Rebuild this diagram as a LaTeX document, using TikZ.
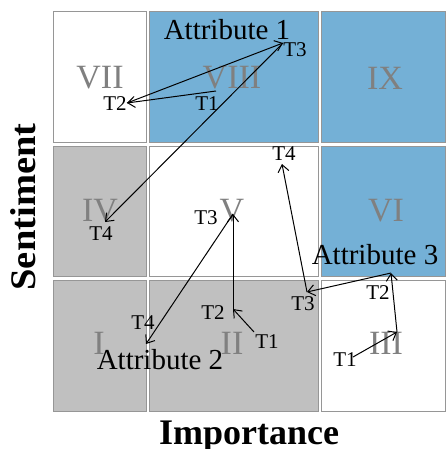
\documentclass[tikz,border=0pt]{standalone}
\usepackage{fontspec}
\setmainfont{Liberation Serif}
\usetikzlibrary{arrows.meta}
\definecolor{cblue}{RGB}{116,176,214}
\definecolor{cgray}{RGB}{192,192,192}
\definecolor{cedge}{RGB}{150,150,150}
\definecolor{cnum}{RGB}{128,128,128}
\begin{document}
\begin{tikzpicture}[x=1pt,y=-1pt,
  cell/.style={draw=cedge, line width=1pt},
  numeral/.style={text=cnum, inner sep=0pt, font=\fontsize{34}{34}\selectfont},
  tlab/.style={inner sep=0pt, font=\fontsize{21}{21}\selectfont},
  attr/.style={inner sep=0pt, font=\fontsize{29}{29}\selectfont},
  axislab/.style={inner sep=0pt, font=\bfseries\fontsize{36}{36}\selectfont},
  traj/.style={draw, line width=1pt, -{Straight Barb[length=7pt,width=11pt]}}]
\useasboundingbox (0,0) rectangle (446,449);
% cells
\path[cell, fill=white] (53,12) rectangle (146,143);
\path[cell, fill=cblue] (149.5,12) rectangle (318,143);
\path[cell, fill=cblue] (321.5,12) rectangle (445.5,143);
\path[cell, fill=cgray] (53,146.5) rectangle (146,276.5);
\path[cell, fill=white] (149.5,146.5) rectangle (318,276.5);
\path[cell, fill=cblue] (321.5,146.5) rectangle (445.5,276.5);
\path[cell, fill=cgray] (53,280) rectangle (146,411.5);
\path[cell, fill=cgray] (149.5,280) rectangle (318,411.5);
\path[cell, fill=white] (321.5,280) rectangle (445.5,411.5);
% numerals
\node[numeral] (nVII) at (100,78) {VII};
\node[numeral] (nVIII) at (232,78) {VIII};
\node[numeral] (nIX) at (385,78) {IX};
\node[numeral] (nIV) at (100,211) {IV};
\node[numeral] (nV) at (232,211) {V};
\node[numeral] (nVI) at (386,211) {VI};
\node[numeral] (nI) at (99,343) {I};
\node[numeral] (nII) at (232,343) {II};
\node[numeral] (nIII) at (386,343) {III};
% axis labels
\node[axislab, anchor=base] (ximp) at (249,444) {Importance};
\node[axislab, rotate=90] (ysen) at (23,207) {\scalebox{1.07}[1]{Sentiment}};
% attribute labels
\node[attr] (att1) at (227,30) {Attribute 1};
\node[attr] (att2) at (160,360) {Attribute 2};
\node[attr] (att3) at (375,255) {Attribute 3};
% attribute 1 trajectory
\coordinate (a1p1) at (216,91);
\coordinate (a1p2) at (127,103);
\coordinate (a1p3) at (283,43);
\coordinate (a1p4) at (105,222);
\node[tlab] (a1l1) at (207,104) {T1};
\node[tlab] (a1l2) at (115,104) {T2};
\node[tlab] (a1l3) at (295,50) {T3};
\node[tlab] (a1l4) at (101,234) {T4};
\draw[traj] (a1p1) -- (a1p2);
\draw[traj] (a1p2) -- (a1p3);
\draw[traj] (a1p3) -- (a1p4);
% attribute 2 trajectory
\coordinate (a2p1) at (254,332);
\coordinate (a2p2) at (233,309);
\coordinate (a2p3) at (233,214);
\coordinate (a2p4) at (146,344);
\node[tlab] (a2l1) at (267,342) {T1};
\node[tlab] (a2l2) at (213,313) {T2};
\node[tlab] (a2l3) at (206,218) {T3};
\node[tlab] (a2l4) at (143,323) {T4};
\draw[traj] (a2p1) -- (a2p2);
\draw[traj] (a2p2) -- (a2p3);
\draw[traj] (a2p3) -- (a2p4);
% attribute 3 trajectory
\coordinate (a3p0) at (353,357);
\coordinate (a3p1) at (397,332);
\coordinate (a3p2) at (391,273);
\coordinate (a3p3) at (307,292);
\coordinate (a3p4) at (282,164);
\node[tlab] (a3l1) at (345,360) {T1};
\node[tlab] (a3l2) at (378,293) {T2};
\node[tlab] (a3l3) at (303,304) {T3};
\node[tlab] (a3l4) at (284,154) {T4};
\draw[traj] (a3p0) -- (a3p1);
\draw[traj] (a3p1) -- (a3p2);
\draw[traj] (a3p2) -- (a3p3);
\draw[traj] (a3p3) -- (a3p4);
\end{tikzpicture}
\end{document}
